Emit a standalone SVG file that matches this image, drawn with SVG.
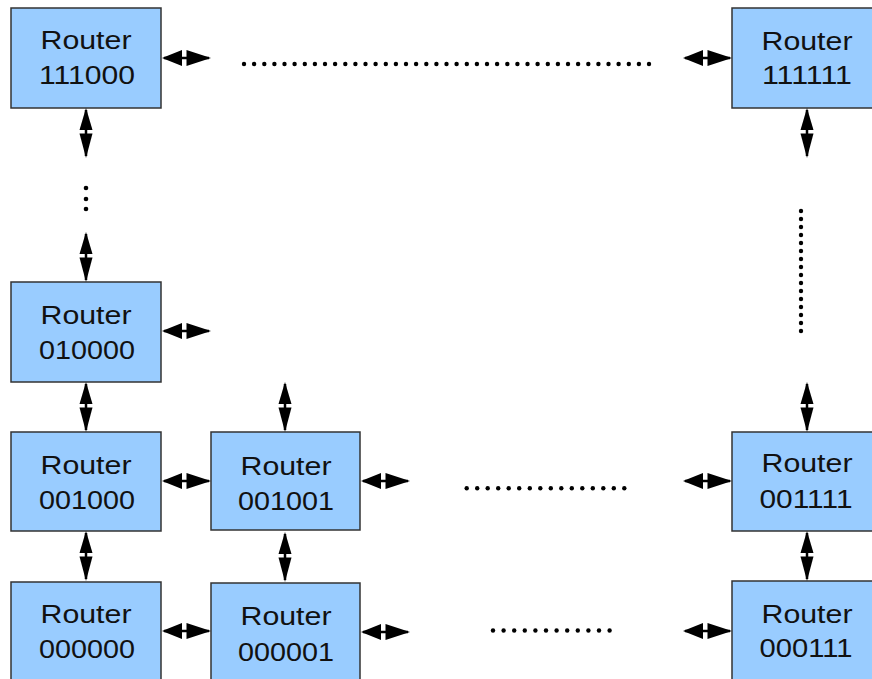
<svg xmlns="http://www.w3.org/2000/svg" xmlns:xlink="http://www.w3.org/1999/xlink" width="872" height="679" viewBox="0 0 872 679">
  <style>
    .box { fill: #99ccff; stroke: #333333; stroke-width: 1.5; }
    .lbl { font-family: "Liberation Sans", Arial, sans-serif; font-size: 25px; fill: #111111; text-anchor: middle; }
    .dot { fill: #000000; }
  </style>
  <defs>
    <!-- double-headed link, horizontal, 49 long, centred on y=0 -->
    <g id="dh">
      <line x1="2" y1="0" x2="47" y2="0" stroke="#000" stroke-width="2.5"/>
      <polygon points="0,0 20,-8 20,8" fill="#000"/>
      <polygon points="49,0 24.5,-8 24.5,8" fill="#000"/>
    </g>
    <!-- double-headed link, vertical, 50 long, centred on x=0 -->
    <g id="dv">
      <line x1="0" y1="2" x2="0" y2="48" stroke="#000" stroke-width="2.5"/>
      <polygon points="0,0 -6.5,22 6.5,22" fill="#000"/>
      <polygon points="0,50 -6.5,25.5 6.5,25.5" fill="#000"/>
    </g>
  </defs>

  <rect width="872" height="679" fill="#ffffff"/>

  <!-- routers -->
  <g id="r111000">
    <rect class="box" x="11" y="8" width="150" height="100"/>
    <text class="lbl" x="86" y="49" textLength="91" lengthAdjust="spacingAndGlyphs">Router</text>
    <text class="lbl" x="87" y="83.5" textLength="96" lengthAdjust="spacingAndGlyphs">111000</text>
  </g>
  <g id="r111111">
    <rect class="box" x="732" y="8" width="150" height="100"/>
    <text class="lbl" x="807" y="50" textLength="91" lengthAdjust="spacingAndGlyphs">Router</text>
    <text class="lbl" x="807" y="83.5" textLength="90" lengthAdjust="spacingAndGlyphs">111111</text>
  </g>
  <g id="r010000">
    <rect class="box" x="11" y="282" width="150" height="100"/>
    <text class="lbl" x="86" y="324" textLength="91" lengthAdjust="spacingAndGlyphs">Router</text>
    <text class="lbl" x="87" y="359" textLength="96" lengthAdjust="spacingAndGlyphs">010000</text>
  </g>
  <g id="r001000">
    <rect class="box" x="11" y="432" width="150" height="99"/>
    <text class="lbl" x="86" y="474" textLength="91" lengthAdjust="spacingAndGlyphs">Router</text>
    <text class="lbl" x="87" y="509" textLength="96" lengthAdjust="spacingAndGlyphs">001000</text>
  </g>
  <g id="r001001">
    <rect class="box" x="211" y="432" width="149" height="98"/>
    <text class="lbl" x="286" y="475" textLength="91" lengthAdjust="spacingAndGlyphs">Router</text>
    <text class="lbl" x="286" y="510" textLength="96" lengthAdjust="spacingAndGlyphs">001001</text>
  </g>
  <g id="r001111">
    <rect class="box" x="732" y="432" width="150" height="99"/>
    <text class="lbl" x="807" y="472" textLength="91" lengthAdjust="spacingAndGlyphs">Router</text>
    <text class="lbl" x="806" y="508" textLength="93" lengthAdjust="spacingAndGlyphs">001111</text>
  </g>
  <g id="r000000">
    <rect class="box" x="11" y="582" width="150" height="100"/>
    <text class="lbl" x="86" y="623" textLength="91" lengthAdjust="spacingAndGlyphs">Router</text>
    <text class="lbl" x="87" y="658" textLength="96" lengthAdjust="spacingAndGlyphs">000000</text>
  </g>
  <g id="r000001">
    <rect class="box" x="211" y="583" width="149" height="100"/>
    <text class="lbl" x="286" y="625" textLength="91" lengthAdjust="spacingAndGlyphs">Router</text>
    <text class="lbl" x="286" y="661" textLength="96" lengthAdjust="spacingAndGlyphs">000001</text>
  </g>
  <g id="r000111">
    <rect class="box" x="732" y="581" width="150" height="100"/>
    <text class="lbl" x="807" y="623" textLength="91" lengthAdjust="spacingAndGlyphs">Router</text>
    <text class="lbl" x="806" y="657" textLength="93" lengthAdjust="spacingAndGlyphs">000111</text>
  </g>

  <!-- links -->
  <g id="connectors">
    <use xlink:href="#dh" x="162" y="58"/>
    <use xlink:href="#dh" x="683" y="58"/>
    <use xlink:href="#dh" x="162" y="331"/>
    <use xlink:href="#dh" x="162" y="481"/>
    <use xlink:href="#dh" x="361" y="481"/>
    <use xlink:href="#dh" x="683" y="481"/>
    <use xlink:href="#dh" x="162" y="631"/>
    <use xlink:href="#dh" x="361" y="632"/>
    <use xlink:href="#dh" x="683" y="631"/>

    <use xlink:href="#dv" x="86" y="108"/>
    <use xlink:href="#dv" x="86" y="232"/>
    <use xlink:href="#dv" x="807" y="108"/>
    <use xlink:href="#dv" x="86" y="382"/>
    <use xlink:href="#dv" x="285" y="382"/>
    <use xlink:href="#dv" x="807" y="382"/>
    <use xlink:href="#dv" x="86" y="531"/>
    <use xlink:href="#dv" x="285" y="532"/>
    <use xlink:href="#dv" x="807" y="531"/>
  </g>

  <!-- elided routers -->
  <g id="ellipses" class="dot">
    <!-- top row: 41 dots -->
    <circle cx="244" cy="64" r="2.2"/><circle cx="254.1" cy="64" r="2.2"/><circle cx="264.3" cy="64" r="2.2"/><circle cx="274.4" cy="64" r="2.2"/><circle cx="284.5" cy="64" r="2.2"/>
    <circle cx="294.6" cy="64" r="2.2"/><circle cx="304.8" cy="64" r="2.2"/><circle cx="314.9" cy="64" r="2.2"/><circle cx="325" cy="64" r="2.2"/><circle cx="335.1" cy="64" r="2.2"/>
    <circle cx="345.3" cy="64" r="2.2"/><circle cx="355.4" cy="64" r="2.2"/><circle cx="365.5" cy="64" r="2.2"/><circle cx="375.6" cy="64" r="2.2"/><circle cx="385.8" cy="64" r="2.2"/>
    <circle cx="395.9" cy="64" r="2.2"/><circle cx="406" cy="64" r="2.2"/><circle cx="416.1" cy="64" r="2.2"/><circle cx="426.3" cy="64" r="2.2"/><circle cx="436.4" cy="64" r="2.2"/>
    <circle cx="446.5" cy="64" r="2.2"/><circle cx="456.6" cy="64" r="2.2"/><circle cx="466.8" cy="64" r="2.2"/><circle cx="476.9" cy="64" r="2.2"/><circle cx="487" cy="64" r="2.2"/>
    <circle cx="497.1" cy="64" r="2.2"/><circle cx="507.3" cy="64" r="2.2"/><circle cx="517.4" cy="64" r="2.2"/><circle cx="527.5" cy="64" r="2.2"/><circle cx="537.6" cy="64" r="2.2"/>
    <circle cx="547.8" cy="64" r="2.2"/><circle cx="557.9" cy="64" r="2.2"/><circle cx="568" cy="64" r="2.2"/><circle cx="578.1" cy="64" r="2.2"/><circle cx="588.3" cy="64" r="2.2"/>
    <circle cx="598.4" cy="64" r="2.2"/><circle cx="608.5" cy="64" r="2.2"/><circle cx="618.6" cy="64" r="2.2"/><circle cx="628.8" cy="64" r="2.2"/><circle cx="638.9" cy="64" r="2.2"/>
    <circle cx="649" cy="64" r="2.2"/>

    <!-- left column -->
    <circle cx="86" cy="188" r="2.3"/><circle cx="86" cy="199" r="2.3"/><circle cx="86" cy="209" r="2.3"/>

    <!-- right column: 16 dots -->
    <circle cx="801" cy="211" r="2.2"/><circle cx="801" cy="219" r="2.2"/><circle cx="801" cy="227" r="2.2"/><circle cx="801" cy="235" r="2.2"/>
    <circle cx="801" cy="243" r="2.2"/><circle cx="801" cy="251" r="2.2"/><circle cx="801" cy="259" r="2.2"/><circle cx="801" cy="267" r="2.2"/>
    <circle cx="801" cy="275" r="2.2"/><circle cx="801" cy="283" r="2.2"/><circle cx="801" cy="291" r="2.2"/><circle cx="801" cy="299" r="2.2"/>
    <circle cx="801" cy="307" r="2.2"/><circle cx="801" cy="315" r="2.2"/><circle cx="801" cy="323" r="2.2"/><circle cx="801" cy="331" r="2.2"/>

    <!-- middle row: 16 dots -->
    <circle cx="466.7" cy="488.3" r="2.2"/><circle cx="477.2" cy="488.3" r="2.2"/><circle cx="487.7" cy="488.3" r="2.2"/><circle cx="498.2" cy="488.3" r="2.2"/>
    <circle cx="508.7" cy="488.3" r="2.2"/><circle cx="519.2" cy="488.3" r="2.2"/><circle cx="529.8" cy="488.3" r="2.2"/><circle cx="540.3" cy="488.3" r="2.2"/>
    <circle cx="550.8" cy="488.3" r="2.2"/><circle cx="561.3" cy="488.3" r="2.2"/><circle cx="571.8" cy="488.3" r="2.2"/><circle cx="582.3" cy="488.3" r="2.2"/>
    <circle cx="592.8" cy="488.3" r="2.2"/><circle cx="603.3" cy="488.3" r="2.2"/><circle cx="613.8" cy="488.3" r="2.2"/><circle cx="624.3" cy="488.3" r="2.2"/>

    <!-- bottom row: 12 dots -->
    <circle cx="493" cy="630.5" r="2.2"/><circle cx="503.6" cy="630.5" r="2.2"/><circle cx="514.2" cy="630.5" r="2.2"/><circle cx="524.8" cy="630.5" r="2.2"/>
    <circle cx="535.4" cy="630.5" r="2.2"/><circle cx="546" cy="630.5" r="2.2"/><circle cx="556.6" cy="630.5" r="2.2"/><circle cx="567.2" cy="630.5" r="2.2"/>
    <circle cx="577.8" cy="630.5" r="2.2"/><circle cx="588.4" cy="630.5" r="2.2"/><circle cx="599" cy="630.5" r="2.2"/><circle cx="609.6" cy="630.5" r="2.2"/>
  </g>
</svg>
